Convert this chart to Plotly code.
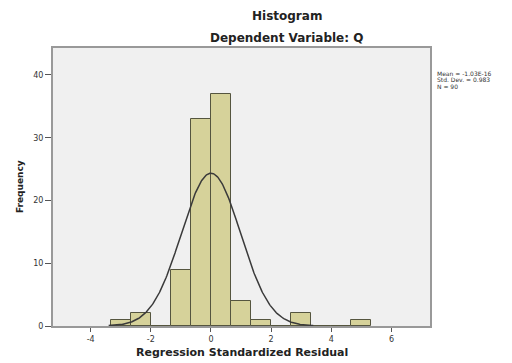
import numpy as np
import plotly.graph_objects as go

# Histogram data (bin width 2/3)
bin_left_edges = [-10/3, -8/3, -2, -4/3, -2/3, 0, 2/3, 4/3, 2, 8/3, 10/3, 4, 14/3]
frequencies = [1, 2, 0, 9, 33, 37, 4, 1, 0, 2, 0, 0, 1]
bin_width = 2/3

# Stats shown on the chart
mean_val = -1.03e-16
std_dev = 0.983
n_obs = 90
stat_lines = ["Mean = -1.03E-16", "Std. Dev. = 0.983", "N = 90"]

x_ticks = [-4, -2, 0, 2, 4, 6]
y_ticks = [0, 10, 20, 30, 40]

centers = [e + bin_width / 2 for e in bin_left_edges]

# Fitted normal curve from the stated mean / std. dev.
xc = np.linspace(-3.4, 3.4, 300)
yc = n_obs * bin_width / (std_dev * np.sqrt(2 * np.pi)) * np.exp(-0.5 * ((xc - mean_val) / std_dev) ** 2)

fig = go.Figure()
fig.add_trace(go.Bar(
    x=centers, y=frequencies, width=bin_width,
    marker=dict(color="#d6d29a", line=dict(color="#55553f", width=1)),
    showlegend=False,
))
fig.add_trace(go.Scatter(
    x=xc, y=yc, mode="lines",
    line=dict(color="#3a3a3a", width=1.5),
    showlegend=False,
))

font_family = "DejaVu Sans, Verdana, sans-serif"
# page body has an 8px default margin, so the figure is sized to fit the window
fig.update_layout(
    width=504, height=355,
    margin=dict(l=45, r=82, t=40, b=37),
    paper_bgcolor="white",
    plot_bgcolor="#f0f0f0",
    bargap=0,
    font=dict(family=font_family, color="#222"),
)
fig.add_annotation(text="<b>Histogram</b>", x=0.62, y=1.0, xref="paper", yref="paper",
                   yshift=23, showarrow=False, font=dict(size=12, color="#222"),
                   yanchor="bottom")
fig.add_annotation(text="<b>Dependent Variable: Q</b>", x=0.62, y=1.0, xref="paper", yref="paper",
                   yshift=1, showarrow=False, font=dict(size=12, color="#222"),
                   yanchor="bottom")
for i, line in enumerate(stat_lines):
    fig.add_annotation(text=line, xref="paper", yref="paper", x=1.012, y=0.91,
                       yshift=-6.5 * i, xanchor="left", yanchor="middle",
                       align="left", showarrow=False, font=dict(size=6, color="#333"))
fig.add_annotation(text="<b>Regression Standardized Residual</b>", x=0.5, y=0, xref="paper", yref="paper",
                   yshift=-18, showarrow=False, font=dict(size=11, color="#222"), yanchor="top")
fig.add_annotation(text="<b>Frequency</b>", x=0, y=0.5, xref="paper", yref="paper",
                   xshift=-33, showarrow=False, font=dict(size=9, color="#222"), textangle=-90,
                   xanchor="center")

fig.update_xaxes(
    range=[-5.25, 7.28], tickvals=x_ticks, ticktext=[str(v) for v in x_ticks],
    ticks="outside", ticklen=4, tickcolor="#555", tickfont=dict(size=8, color="#333"),
    showgrid=False, zeroline=False, showline=True, linecolor="#999", linewidth=2, mirror=True,
    automargin=False,
)
fig.update_yaxes(
    range=[0, 44.3], tickvals=y_ticks, ticktext=[str(v) for v in y_ticks],
    ticks="outside", ticklen=6, tickcolor="#555", tickfont=dict(size=8, color="#333"),
    showgrid=False, zeroline=False, showline=True, linecolor="#999", linewidth=2, mirror=True,
    automargin=False,
)

fig.write_html("out.html")
